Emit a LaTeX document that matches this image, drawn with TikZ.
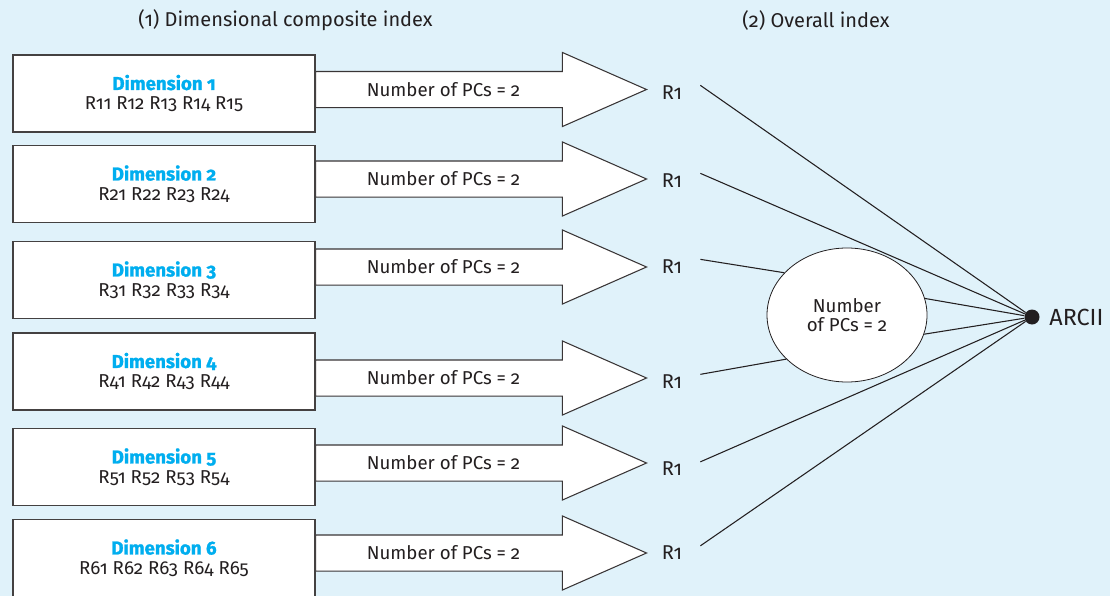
\documentclass[tikz,border=0pt]{standalone}
\usepackage{fontspec}
\setmainfont{Fira Sans}[Numbers=OldStyle]
\newfontfamily\dimfont{Fira Sans}[Numbers=OldStyle, BoldFeatures={FakeBold=1.2}]
\usepackage{tikz}
\usetikzlibrary{positioning,shapes.geometric,shapes.arrows}
\definecolor{bgblue}{HTML}{E0F2FA}
\definecolor{dimblue}{HTML}{00AEEF}
\definecolor{ink}{HTML}{231F20}
\newcommand{\dimname}[1]{{\color{dimblue}\dimfont\bfseries Dimension #1}}

\begin{document}
\begin{tikzpicture}[
  x=0.75pt, y=-0.75pt,
  font=\fontsize{14}{15}\selectfont, text=ink,
  dimbox/.style={draw=ink!85, fill=white, line width=0.9pt, align=center, inner sep=0pt,
    minimum width=226.5pt, minimum height=57.75pt},
  pcarrow/.style={single arrow, draw=ink!90, fill=white, line width=0.8pt, anchor=tail,
    inner xsep=0pt, inner ysep=13.125pt, text height=0pt, text depth=0pt,
    minimum height=248.25pt, single arrow head extend=14.25pt, single arrow tip angle=47.5},
  pclab/.style={inner sep=0pt},
  reslab/.style={font=\fontsize{15}{18}\selectfont, inner sep=0pt},
  hdr/.style={font=\fontsize{15}{18}\selectfont, inner sep=0pt},
  link/.style={draw=ink, line width=0.8pt},
  dot/.style={circle, fill=ink, inner sep=0pt, minimum size=11.25pt}
]
\path[use as bounding box, fill=bgblue] (0,0) rectangle (1110,596);
\node[hdr] (hdim) at (285.5,20) {(1) Dimensional composite index};
\node[hdr] (hall) at (816,20) {(2) Overall index};
% block arrows first, boxes on top
\node[pcarrow] (pc1) at (315,89.5) {};
\node[pcarrow] (pc2) at (315,179) {};
\node[pcarrow] (pc3) at (315,267) {};
\node[pcarrow] (pc4) at (315,378) {};
\node[pcarrow] (pc5) at (315,463) {};
\node[pcarrow] (pc6) at (315,553) {};
\node[pclab] (pclab1) at ([xshift=96.4pt]pc1.tail) {Number of PCs = 2};
\node[pclab] (pclab2) at ([xshift=96.4pt]pc2.tail) {Number of PCs = 2};
\node[pclab] (pclab3) at ([xshift=96.4pt]pc3.tail) {Number of PCs = 2};
\node[pclab] (pclab4) at ([xshift=96.4pt]pc4.tail) {Number of PCs = 2};
\node[pclab] (pclab5) at ([xshift=96.4pt]pc5.tail) {Number of PCs = 2};
\node[pclab] (pclab6) at ([xshift=96.4pt]pc6.tail) {Number of PCs = 2};
\node[dimbox] (dim1) at (164,93.5) {\dimname{1}\\R11 R12 R13 R14 R15};
\node[dimbox] (dim2) at (164,184) {\dimname{2}\\R21 R22 R23 R24};
\node[dimbox] (dim3) at (164,280) {\dimname{3}\\R31 R32 R33 R34};
\node[dimbox] (dim4) at (164,371.5) {\dimname{4}\\R41 R42 R43 R44};
\node[dimbox] (dim5) at (164,467) {\dimname{5}\\R51 R52 R53 R54};
\node[dimbox] (dim6) at (164,558) {\dimname{6}\\R61 R62 R63 R64 R65};
\node[reslab] (res1) at (672,92.5) {R1};
\node[reslab] (res2) at (672,180.5) {R1};
\node[reslab] (res3) at (672,266.5) {R1};
\node[reslab] (res4) at (672,381.5) {R1};
\node[reslab] (res5) at (672,469) {R1};
\node[reslab] (res6) at (672,553) {R1};
\node[ellipse, draw=ink, fill=white, line width=0.6pt, align=center, inner sep=0pt,
  font=\fontsize{14}{14.25}\selectfont,
  minimum width=120pt, minimum height=100.5pt] (pcall) at (847,315) {Number\\of PCs = 2};
\node[dot] (arcii) at (1032,317) {};
\node[reslab, font=\fontsize{17.5}{20}\selectfont, right=7pt of arcii] (arciilab) {ARCII};
\draw[link] ([xshift=13.5pt]res1.north east) -- (arcii);
\draw[link] ([xshift=13.5pt]res2.north east) -- (arcii);
\draw[link] ([xshift=13.5pt]res3.north east) -- (pcall.146);
\draw[link] ([xshift=13.5pt]res4.north east) -- (pcall.216);
\draw[link] ([xshift=13.5pt]res5.north east) -- (arcii);
\draw[link] ([xshift=13.5pt]res6.north east) -- (arcii);
\draw[link] (pcall.12) -- (arcii);
\draw[link] (pcall.346) -- (arcii);
\end{tikzpicture}
\end{document}
